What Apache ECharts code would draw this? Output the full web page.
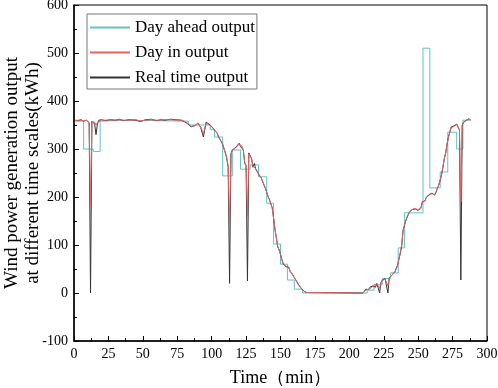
<!DOCTYPE html>
<html>
<head>
<meta charset="utf-8">
<script src="https://cdn.jsdelivr.net/npm/echarts@6/dist/echarts.min.js"></script>
<style>
  html, body { margin: 0; padding: 0; background: #fff; }
  #main { width: 498px; height: 388px; }
</style>
</head>
<body>
<div id="main"></div>
<script>
// series names
const seriesNames = ["Day ahead output", "Day in output", "Real time output"];

// day ahead output (step line, [min, kWh])
const dayAhead = [
  [1, 358], [7, 358], [7, 300], [14, 300], [14, 295], [19, 295], [19, 358],
  [40, 360], [60, 359], [83, 358], [83, 350], [99, 350], [99, 340], [102, 340],
  [102, 325], [108, 325], [108, 244], [115, 244], [115, 298], [121, 298],
  [121, 258], [128, 258], [128, 267], [134, 267], [134, 242], [140, 242],
  [140, 187], [145, 187], [145, 102], [150, 102], [150, 60], [155, 60],
  [155, 27], [160, 27], [160, 8], [166, 8], [166, 0], [213, 0], [213, 6],
  [218, 6], [218, 17], [224, 17], [224, 30], [230, 30], [230, 42], [235.5, 42],
  [235.5, 94], [240, 94], [240, 167], [253.5, 167], [253.5, 510], [258.5, 510],
  [258.5, 219], [266, 219], [266, 252], [271.5, 252], [271.5, 335], [278, 335],
  [278, 300], [282.5, 300], [282.5, 360], [288, 360]
];

// day in output
const dayIn = [
  [1, 359], [3, 360], [5, 360], [7, 359], [9, 360], [10, 357], [11, 354], [12, 180],
  [13, 357], [14, 359], [15, 356], [16, 350], [17, 355], [18, 359], [20, 360],
  [23, 360], [26, 361], [30, 360], [33, 361], [36, 360], [40, 360], [45, 361],
  [48, 358], [52, 360], [56, 361], [60, 360], [63, 360], [66, 361], [70, 361],
  [74, 360], [78, 360], [80, 358], [83, 353], [85, 347], [88, 349], [90, 353],
  [92, 346], [94, 332], [96, 354], [98, 351], [100, 346], [102, 340], [104, 332],
  [105, 326], [106, 321], [107, 316], [108, 309], [109, 301], [110, 290],
  [111, 281], [112, 264], [113, 140], [114, 288], [115, 297], [117, 301],
  [118, 300], [120, 310], [121, 306], [122, 306], [123, 297], [124, 272],
  [125, 266], [126, 160], [127, 290], [128, 287], [129, 279], [130, 264],
  [131, 268], [132, 259], [133, 258], [134, 249], [135, 248], [136, 240],
  [137, 233], [138, 226], [139, 219], [140, 209], [141, 201], [142, 193],
  [143, 186], [144, 176], [145, 156], [146, 133], [147, 114], [148, 98],
  [149, 89], [150, 81], [151, 69], [152, 61], [153, 57], [154, 55], [155, 53],
  [156, 52], [157, 46], [158, 41], [159, 37], [160, 32], [161, 27], [162, 22],
  [163, 17], [164, 13], [165, 9], [166, 6], [167, 4], [168, 2], [169, 1],
  [170, 0], [210, 0], [211, 2], [212, 6], [213, 6], [214, 8], [215, 11],
  [216, 11], [217, 14], [218, 17], [219, 14], [220, 19], [221, 19], [222, 10],
  [223, 21], [224, 26], [225, 27], [226, 29], [227, 32], [228, 15], [229, 31],
  [230, 35], [231, 38], [232, 41], [233, 43], [234, 47], [235, 56], [236, 72],
  [237, 85], [238, 100], [239, 128], [240, 142], [241, 151], [242, 159],
  [243, 164], [244, 169], [245, 172], [246, 175], [247, 176], [248, 176],
  [249, 177], [250, 173], [251, 170], [252, 176], [253, 188], [254, 189],
  [255, 193], [256, 199], [257, 203], [258, 204], [259, 203], [260, 207],
  [261, 206], [262, 205], [263, 209], [264, 217], [265, 226], [266, 236],
  [267, 248], [268, 264], [269, 281], [270, 293], [271, 311], [272, 324],
  [273, 336], [274, 344], [275, 343], [276, 347], [277, 350], [278, 351],
  [279, 346], [280, 340], [281, 190], [282, 349], [283, 355], [284, 356],
  [285, 360], [286, 361], [287, 362], [288, 360]
];

// real time output
const realTime = [
  [1, 360], [3, 359], [5, 361], [7, 358], [9, 360], [10, 358], [11, 355], [12, 0],
  [13, 358], [14, 360], [15, 352], [16, 330], [17, 352], [18, 360], [20, 361],
  [23, 359], [26, 361], [30, 360], [33, 362], [36, 359], [40, 361], [45, 360],
  [48, 357], [52, 361], [56, 362], [60, 359], [63, 361], [66, 360], [70, 362],
  [74, 361], [78, 360], [80, 357], [83, 352], [85, 346], [88, 349], [90, 354],
  [92, 345], [94, 325], [96, 356], [98, 352], [100, 347], [102, 340], [104, 333],
  [105, 325], [106, 322], [107, 315], [108, 310], [109, 300], [110, 292],
  [111, 280], [112, 262], [113, 20], [114, 290], [115, 298], [117, 302],
  [118, 300], [120, 312], [121, 305], [122, 308], [123, 298], [124, 270],
  [125, 265], [126, 25], [127, 292], [128, 288], [129, 280], [130, 262],
  [131, 270], [132, 258], [133, 260], [134, 248], [135, 250], [136, 240],
  [137, 232], [138, 228], [139, 218], [140, 210], [141, 200], [142, 195],
  [143, 185], [144, 178], [145, 155], [146, 132], [147, 115], [148, 96],
  [149, 90], [150, 80], [151, 70], [152, 60], [153, 58], [154, 55], [155, 52],
  [156, 54], [157, 45], [158, 42], [159, 38], [160, 32], [161, 28], [162, 23],
  [163, 18], [164, 14], [165, 10], [166, 6], [167, 4], [168, 2], [169, 1],
  [170, 0], [210, 0], [211, 3], [212, 8], [213, 5], [214, 7], [215, 12],
  [216, 10], [217, 15], [218, 18], [219, 12], [220, 20], [221, 18], [222, 0],
  [223, 22], [224, 27], [225, 26], [226, 30], [227, 33], [228, 0], [229, 32],
  [230, 35], [231, 37], [232, 40], [233, 44], [234, 45], [235, 58], [236, 70],
  [237, 82], [238, 96], [239, 131], [240, 140], [241, 150], [242, 158],
  [243, 165], [244, 170], [245, 172], [246, 174], [247, 177], [248, 175],
  [249, 178], [250, 172], [251, 169], [252, 178], [253, 190], [254, 188],
  [255, 192], [256, 200], [257, 204], [258, 205], [259, 202], [260, 208],
  [261, 205], [262, 204], [263, 210], [264, 219], [265, 225], [266, 235],
  [267, 246], [268, 262], [269, 280], [270, 291], [271, 310], [272, 325],
  [273, 335], [274, 346], [275, 342], [276, 348], [277, 350], [278, 352],
  [279, 345], [280, 340], [281, 27], [282, 350], [283, 356], [284, 355],
  [285, 360], [286, 362], [287, 363], [288, 360]
];

const colors = ["#5ec4c4", "#e06464", "#333333"];
const serifFont = "'Liberation Serif', 'Times New Roman', serif";

let chart = echarts.init(document.getElementById("main"));
let option = {
  animation: false,
  color: colors,
  textStyle: { fontFamily: serifFont, color: "#000" },
  grid: {
    left: 74,
    right: 11,
    top: 5,
    bottom: 47,
    outerBoundsMode: "none",
    containLabel: false,
    show: true,
    borderColor: "#000",
    borderWidth: 1,
  },
  legend: {
    orient: "vertical",
    left: 87,
    top: 14,
    padding: [5, 2, 3, 2],
    itemWidth: 40,
    itemHeight: 14,
    itemGap: 8,
    borderColor: "#777",
    borderWidth: 1,
    backgroundColor: "#fff",
    itemStyle: { opacity: 0 },
    textStyle: { fontFamily: serifFont, fontSize: 17, color: "#000" },
    data: seriesNames,
  },
  xAxis: {
    type: "value",
    min: 0,
    max: 300,
    interval: 25,
    name: "Time（min）",
    nameLocation: "middle",
    nameGap: 28,
    nameMoveOverlap: false,
    nameTextStyle: { fontFamily: serifFont, fontSize: 18, color: "#000" },
    axisLine: { onZero: false, lineStyle: { color: "#000", width: 1.5 } },
    axisTick: { inside: true, length: 5, lineStyle: { color: "#000" } },
    minorTick: { show: true, splitNumber: 2, length: 3, lineStyle: { color: "#000" } },
    axisLabel: { fontFamily: serifFont, fontSize: 14, color: "#000", margin: 6 },
    splitLine: { show: false },
  },
  yAxis: {
    type: "value",
    min: -100,
    max: 600,
    interval: 100,
    name: "Wind power generation output\nat different time scales(kWh)",
    nameLocation: "middle",
    nameGap: 30,
    nameMoveOverlap: false,
    nameTextStyle: { fontFamily: serifFont, fontSize: 19, lineHeight: 21, color: "#000" },
    axisLine: { show: true, onZero: false, lineStyle: { color: "#000", width: 1.5 } },
    axisTick: { show: true, inside: true, length: 5, lineStyle: { color: "#000" } },
    minorTick: { show: true, splitNumber: 2, length: 3, lineStyle: { color: "#000" } },
    axisLabel: { fontFamily: serifFont, fontSize: 14, color: "#000", margin: 6 },
    splitLine: { show: false },
  },
  series: [
    {
      name: seriesNames[0],
      type: "line",
      symbol: "none",
      lineStyle: { width: 1, color: colors[0] },
      data: dayAhead,
      z: 2,
    },
    {
      name: seriesNames[1],
      type: "line",
      symbol: "none",
      lineStyle: { width: 1, color: colors[1] },
      data: dayIn,
      z: 4,
    },
    {
      name: seriesNames[2],
      type: "line",
      symbol: "none",
      lineStyle: { width: 1, color: colors[2] },
      data: realTime,
      z: 3,
    },
  ],
};
chart.setOption(option);
</script>
</body>
</html>
